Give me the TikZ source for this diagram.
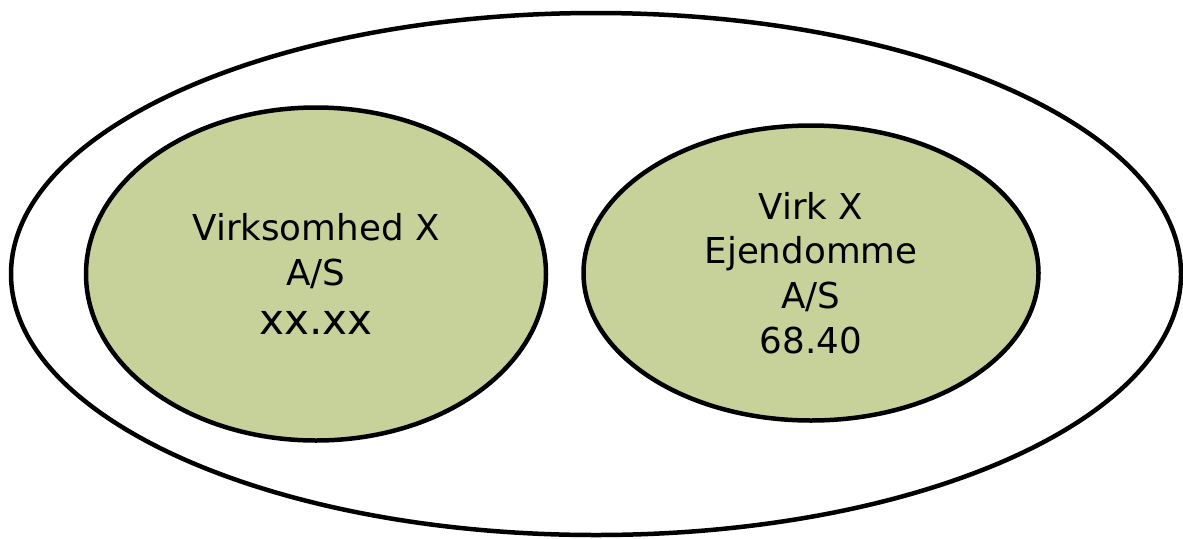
\documentclass[tikz,border=0pt]{standalone}
\usepackage{fontspec}
\setmainfont{DejaVu Sans}
\usepackage{tikz}
\usetikzlibrary{shapes.geometric}
\definecolor{firmgreen}{RGB}{198,210,154}
\tikzstyle{group}=[draw, ellipse, line width=0.09cm, inner sep=0, outer sep=0]
\tikzstyle{firm}=[group, fill=firmgreen, align=center,
                  font=\fontsize{20.3pt}{25.5pt}\selectfont]
\begin{document}
\begin{tikzpicture}[x=0.02cm, y=-0.02cm]
        % Page size of the picture.
        \useasboundingbox (0, 0) rectangle (1183, 538);
        \node[group, minimum width=1170*0.02cm, minimum height=522*0.02cm] (G) at (596, 274) {};
        \node[firm, minimum width=460*0.02cm, minimum height=333*0.02cm]   (V) at (316, 274) {Virksomhed X\\A/S\\[2pt]{\fontsize{24pt}{28pt}\selectfont xx.xx}};
        \node[firm, minimum width=455*0.02cm, minimum height=295*0.02cm]   (E) at (811, 273) {Virk X\\Ejendomme\\A/S\\68.40};
    \end{tikzpicture}
\end{document}
